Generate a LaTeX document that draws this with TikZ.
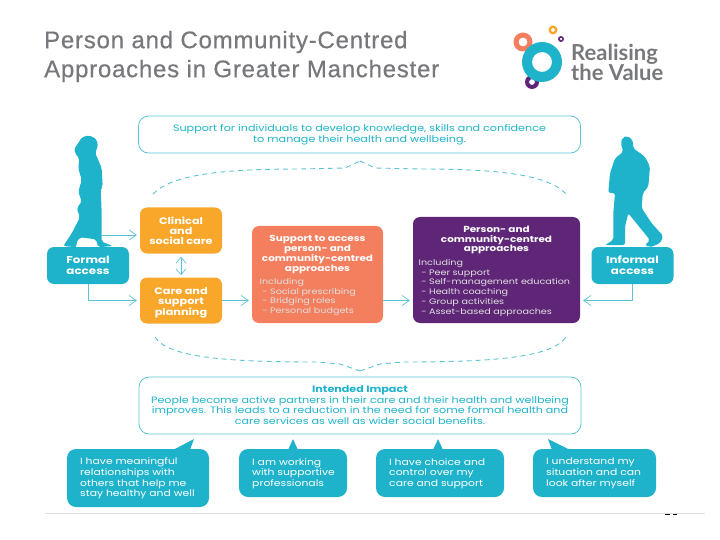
\documentclass[tikz,border=0pt]{standalone}
\usepackage{fontspec}
\setmainfont[FakeStretch=1.2]{Poppins}
\newfontfamily\titlefont[LetterSpace=3.2,FakeBold=0.5]{Liberation Sans}
\newfontfamily\logofont{Lato}
\usetikzlibrary{arrows.meta}
\definecolor{rvteal}{HTML}{1FB3CB}
\definecolor{rvline}{HTML}{5CC3D5}
\definecolor{rvamber}{HTML}{F9A72B}
\definecolor{rvcoral}{HTML}{F47F5E}
\definecolor{rvpurple}{HTML}{5F2678}
\definecolor{rvgray}{HTML}{77787B}
\tikzset{
  boxtext/.style={font=\fontsize{8.0}{9.8}\selectfont,text=white,align=center,inner sep=0pt},
  headtext/.style={boxtext,font=\fontsize{8.7}{9.9}\selectfont\bfseries},
  listtext/.style={boxtext,align=left,anchor=north west,text=white!88!black},
  outlinetext/.style={boxtext,anchor=north,text=rvteal,font=\fontsize{9.3}{10.7}\selectfont},
  block/.style={rounded corners=7pt,inner sep=0pt,align=center,text=white,
    font=\fontsize{8.7}{9.9}\selectfont\bfseries},
  tealblock/.style={block,fill=rvteal,minimum width=82pt,minimum height=37pt,font=\fontsize{9.9}{11}\selectfont\bfseries},
  amberblock/.style={block,fill=rvamber,minimum width=82pt,minimum height=46pt,font=\fontsize{9.4}{10}\selectfont\bfseries},
  outlinebox/.style={draw=rvline,line width=0.8pt,rounded corners=10pt,inner sep=0pt,minimum width=442pt},
  bubble/.style={fill=rvteal,rounded corners=9pt,text=white,align=left,inner sep=0pt},
  flow/.style={draw=rvline,line width=0.7pt,-{Straight Barb[length=7pt,width=10pt]},shorten >=3pt},
  guide/.style={draw=rvline,line width=0.9pt,dash pattern=on 5pt off 4pt},
}
\begin{document}
\begin{tikzpicture}[x=1pt,y=-1pt]
  \useasboundingbox (0,0) rectangle (720,540);

  % ---- title ----
  \node[anchor=west,inner sep=0pt,text=rvgray,align=left,font=\fontsize{24}{29}\titlefont] (title) at (44,56.5)
        {Person and Community-Centred\\Approaches in Greater Manchester};

  % ---- logo rings ----
  \foreach \x/\y/\ro/\ri/\c in {523/42/9.5/4.5/rvcoral, 553/30/4.5/2/rvamber, 561/39/3/1.5/rvpurple,
                                532/82/7/3/rvpurple, 542/62/20/10/rvteal}
    \fill[\c,even odd rule] (\x,\y) circle (\ro) (\x,\y) circle (\ri);
  \node[anchor=north west,inner sep=0pt,text=rvgray,align=left,font=\fontsize{22}{20.5}\logofont\bfseries] (logotext) at (571,43.5)
        {Realising\\the Value};

  % ---- figures ----
  \fill[rvteal,rounded corners=2pt] (89.3,135.3) -- (96.7,139.3) -- (98,146.7) -- (95,152.7) -- (98.3,160)
        -- (101.7,168.3) -- (102.7,186.7) -- (100.7,188.3) -- (101.7,213.3) -- (101.7,241.7) -- (112.7,246)
        -- (98.3,247.3) -- (96,239.3) -- (80,237.3) -- (76,243.3) -- (76.7,247.3) -- (63.3,246)
        -- (71.7,233.3) -- (80,217.3) -- (76.7,208.3) -- (81.7,201.7) -- (78.3,191.7) -- (81.7,180)
        -- (78.3,168.3) -- (79.3,158.3) -- (75,153.3) -- (74.3,148.3) -- (78.3,143.3) -- (81.7,137.3) -- cycle;
  \fill[rvteal,rounded corners=2pt] (627.3,136) -- (632.7,140) -- (633.3,148.3) -- (645,156.7) -- (650,166.7)
        -- (648.3,186.7) -- (642.7,193.3) -- (641.7,208.3) -- (651.7,223.3) -- (663.3,236) -- (660,243.3)
        -- (650,247.3) -- (645,245) -- (650,240) -- (628.3,213.3) -- (625,226.7) -- (625,245) -- (605,245)
        -- (613.3,240) -- (613.3,213.3) -- (615,193.3) -- (608.3,192.7) -- (610,173.3) -- (615,158.3)
        -- (623.3,151.7) -- (620.7,143.3) -- (622.7,137.3) -- cycle;

  % ---- access blocks ----
  \node[tealblock] (formal) at (88,265.5) {};
  \node[headtext,font=\fontsize{9.9}{11}\selectfont\bfseries,anchor=north] (formaltext) at (88,256) {Formal\\access};
  \node[tealblock] (informal) at (632.5,265.5) {};
  \node[headtext,font=\fontsize{9.9}{11}\selectfont\bfseries,anchor=north] (informaltext) at (632.5,256) {Informal\\access};

  % ---- care blocks ----
  \node[amberblock] (clinical) at (181,230.5) {Clinical\\and\\social care};
  \node[amberblock] (planning) at (181,300.5) {};
  \node[headtext,font=\fontsize{9.4}{10}\selectfont\bfseries,anchor=north] (planningtext) at (181,287) {Care and\\support\\planning};

  % ---- support block ----
  \node[block,fill=rvcoral,minimum width=131pt,minimum height=97pt] (support) at (317.5,274.5) {};
  \node[headtext,anchor=north] (supporthead) at (317.5,235)
        {Support to access\\person- and\\community-centred\\approaches};
  \node[listtext] (supportlist) at (259.5,278)
        {Including\\\ - Social prescribing\\\ - Bridging roles\\\ - Personal budgets};

  % ---- approaches block ----
  \node[block,fill=rvpurple,minimum width=167pt,minimum height=106pt] (approaches) at (496.5,270) {};
  \node[headtext,anchor=north] (approacheshead) at (496.5,225.5)
        {Person- and\\community-centred\\approaches};
  \node[listtext] (approacheslist) at (418.5,259)
        {Including\\\ - Peer support\\\ - Self-management education\\\ - Health coaching\\\ - Group activities\\\ - Asset-based approaches};

  % ---- outline boxes ----
  \node[outlinebox,minimum height=37pt] (skills) at (359.5,134.5) {};
  \node[outlinetext] (skillstext) at (359.5,124.5)
        {Support for individuals to develop knowledge, skills and confidence\\to manage their health and wellbeing.};
  \node[outlinebox,minimum height=57pt] (impact) at (360,405.5) {};
  \node[outlinetext] (impacttext) at (360,385.5)
        {{\bfseries Intended Impact}\\People become active partners in their care and their health and wellbeing\\improves. This leads to a reduction in the need for some formal health and\\care services as well as wider social benefits.};

  % ---- quote bubbles ----
  \foreach \name/\cx/\cy/\w/\h/\tl/\tr/\tx/\txt in {
      one/138/478/142/58/173/190/194/{I have meaningful\\relationships with\\others that help me\\stay healthy and well},
      two/293/473/108/48/288/298/293/{I am working\\with supportive\\professionals},
      three/440/473/128/48/433/443/438/{I have choice and\\control over my\\care and support},
      four/594.5/473/123/48/552/570/548/{I understand my\\situation and can\\look after myself}} {
    \node[bubble,minimum width=\w pt,minimum height=\h pt] (bubble\name) at (\cx,\cy) {};
    \node[boxtext,align=left,anchor=west,font=\fontsize{9.0}{10.7}\selectfont] (quote\name) at (\cx-0.5*\w+13,\cy+0.5) {\txt};
    \fill[rvteal] (\tl,450) -- (\tx,439) -- (\tr,450) -- cycle;
  }

  % ---- connectors ----
  \coordinate (walker) at (102,235);
  \coordinate (planport) at (planning.west);
  \draw[flow] (walker) -- (clinical.west |- walker);
  \draw[flow] (formal.south) |- (planport);
  \draw[draw=rvline,line width=0.7pt,{Straight Barb[length=6pt,width=10pt]}-{Straight Barb[length=6pt,width=10pt]},shorten >=2pt,shorten <=3pt]
        (clinical.south) -- (planning.north);
  \draw[flow] (planning.east) -- (support.west |- planning.east);
  \draw[flow] (support.east |- planning.east) -- (approaches.west |- planning.east);
  \draw[flow] (informal.south) |- (approaches.east |- planning.east);

  % ---- dashed braces ----
  \coordinate (topleft) at (153,194);
  \coordinate (topright) at (566,194);
  \coordinate (toptip) at (360,161);
  \coordinate (lowleft) at (155,337);
  \coordinate (lowright) at (566,337);
  \coordinate (lowtip) at (360,371);
  \draw[guide] (topleft) .. controls (172,174) and (225,169) .. (300,169) -- (345,168) -- (toptip);
  \draw[guide] (toptip) -- (375,168) -- (420,169) .. controls (495,169) and (548,174) .. (topright);
  \draw[guide] (lowleft) .. controls (168,358) and (230,362) .. (317,362) -- (340,364) -- (lowtip);
  \draw[guide] (lowtip) -- (380,364) -- (403,362) .. controls (490,362) and (552,358) .. (lowright);

  % ---- footer ----
  \draw[black!12,line width=0.7pt] (45,513) -- (705,513);
  \draw[black,line width=1pt] (665,514) -- (670,514) (673,514) -- (677,514);

\end{tikzpicture}
\end{document}
